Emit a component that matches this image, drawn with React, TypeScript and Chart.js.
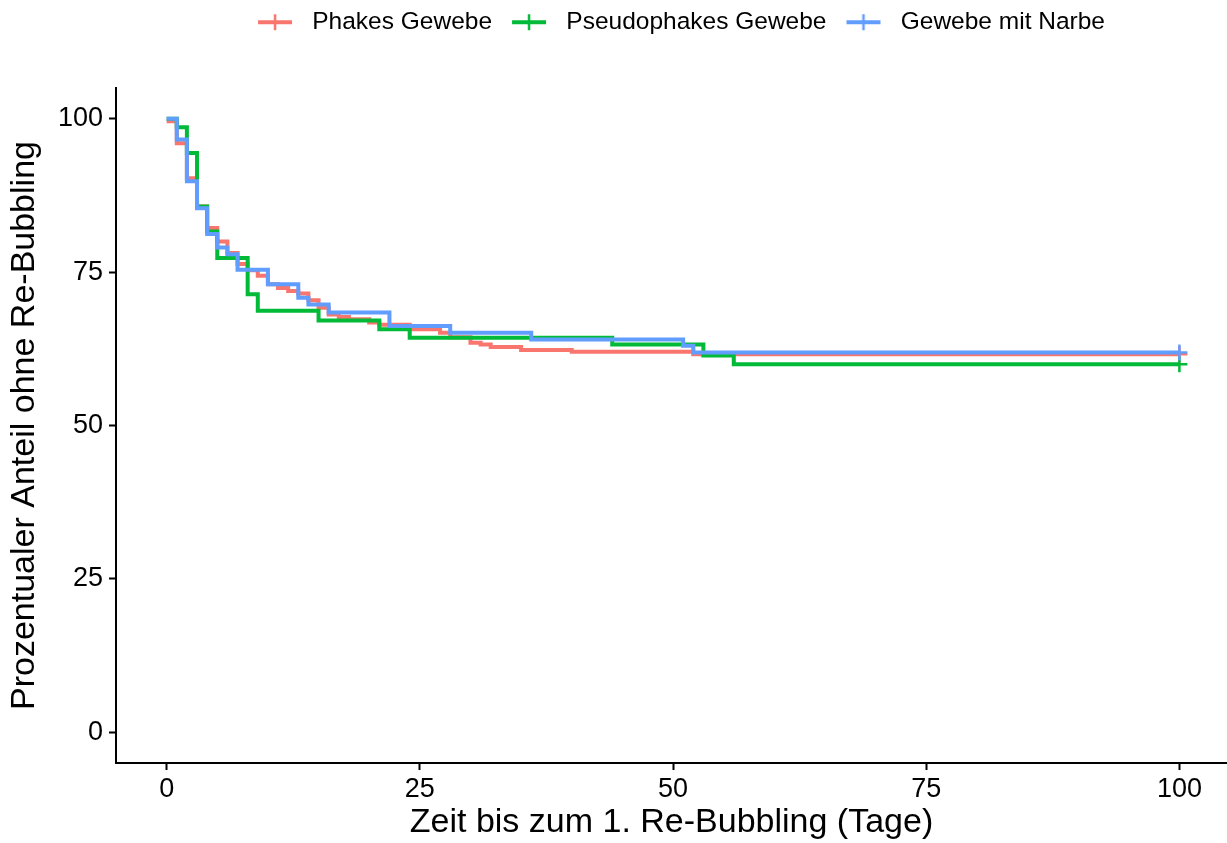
import React, { useEffect, useRef } from 'react';
import { Chart, registerables } from 'chart.js';

Chart.register(...registerables);

// ---- data ----
const seriesLabels = ['Phakes Gewebe', 'Pseudophakes Gewebe', 'Gewebe mit Narbe'];
const seriesColors = ['#F8766D', '#00BA38', '#619CFF'];

const phakesTime = [0, 1, 2, 3, 4, 5, 6, 7, 8, 9, 10, 11, 12, 13, 14, 15, 16, 17, 18, 20, 21, 24, 27, 28, 30, 31, 32, 35, 40, 52, 100];
const phakesSurv = [99.6, 96.0, 90.3, 85.7, 82.2, 80.0, 78.1, 76.3, 75.3, 74.4, 73.0, 72.4, 71.9, 71.5, 70.4, 69.2, 68.1, 67.7, 67.3, 66.8, 66.4, 65.7, 65.1, 64.4, 63.5, 63.2, 62.8, 62.3, 62.0, 61.6, 61.6];

const pseudoTime = [0, 1, 2, 3, 4, 5, 8, 9, 15, 21, 24, 44, 53, 56, 100];
const pseudoSurv = [100, 98.6, 94.4, 85.7, 81.6, 77.3, 71.4, 68.7, 67.1, 65.7, 64.3, 63.2, 61.4, 60.0, 60.0];

const narbeTime = [0, 1, 2, 3, 4, 5, 6, 7, 10, 13, 14, 16, 22, 28, 36, 51, 52, 100];
const narbeSurv = [100, 96.6, 89.8, 85.4, 81.2, 79.0, 77.9, 75.4, 73.0, 70.8, 69.7, 68.4, 66.2, 65.1, 64.0, 63.0, 61.9, 61.9];

const xTicks = [0, 25, 50, 75, 100];
const yTicks = [0, 25, 50, 75, 100];

const xTitle = 'Zeit bis zum 1. Re-Bubbling (Tage)';
const yTitle = 'Prozentualer Anteil ohne Re-Bubbling';

const FONT = "'Liberation Sans', Arial, Helvetica, sans-serif";

function toPoints(t: number[], s: number[]) {
  return t.map((x, i) => ({ x, y: s[i] }));
}

function makeLegendSymbol(color: string) {
  const c = document.createElement('canvas');
  c.width = 52;
  c.height = 24;
  const g = c.getContext('2d')!;
  g.strokeStyle = color;
  g.lineWidth = 4;
  g.beginPath();
  g.moveTo(10, 12);
  g.lineTo(44, 12);
  g.stroke();
  g.lineWidth = 2.5;
  g.beginPath();
  g.moveTo(27, 4);
  g.lineTo(27, 20);
  g.stroke();
  return c;
}

export default function App() {
  const ref = useRef<HTMLCanvasElement>(null);

  useEffect(() => {
    if (!ref.current) return;
    Chart.defaults.font.family = FONT;
    const symbols = seriesColors.map(makeLegendSymbol);
    const series = [
      toPoints(phakesTime, phakesSurv),
      toPoints(pseudoTime, pseudoSurv),
      toPoints(narbeTime, narbeSurv),
    ];
    const orders = [3, 2, 1];

    const layoutPlugin = {
      id: 'layoutTweak',
      afterInit(chart: any) {
        const lg = chart.legend;
        if (lg) {
          const fit = lg.fit;
          lg.fit = function () {
            fit.call(this);
            this.height = 88;
          };
        }
      },
      afterLayout(chart: any) {
        const lg = chart.legend;
        if (lg) {
          lg.left += 5;
          lg.right += 5;
        }
      },
    };

    const chart = new Chart(ref.current, {
      type: 'line',
      data: {
        datasets: series.map((data, i) => ({
          label: seriesLabels[i],
          data,
          order: orders[i],
          borderColor: seriesColors[i],
          backgroundColor: seriesColors[i],
          borderWidth: 4,
          stepped: true,
          fill: false,
          borderJoinStyle: 'miter',
          borderCapStyle: 'butt',
          pointStyle: 'cross',
          pointRadius: (ctx: any) => (ctx.dataIndex === data.length - 1 ? 8 : 0),
          pointBorderWidth: 2.5,
          pointBorderColor: seriesColors[i],
          pointHoverRadius: 0,
        })),
      },
      options: {
        responsive: false,
        animation: false,
        events: [],
        layout: { padding: 0, autoPadding: false },
        plugins: {
          legend: {
            position: 'top',
            fullSize: false,
            labels: {
              usePointStyle: true,
              pointStyleWidth: 52,
              padding: 10,
              color: '#000',
              font: { size: 24.5, family: FONT },
              generateLabels: (ch: any) =>
                ch.data.datasets.map((ds: any, i: number) => ({
                  text: ds.label,
                  pointStyle: symbols[i],
                  fillStyle: 'transparent',
                  strokeStyle: 'transparent',
                  lineWidth: 0,
                  hidden: false,
                  datasetIndex: i,
                  fontColor: '#000',
                })),
            },
          },
          tooltip: { enabled: false },
        },
        scales: {
          x: {
            type: 'linear',
            min: -5,
            max: 104.7,
            afterFit: (s: any) => {
              s.height = 80;
              s.paddingLeft = 0;
              s.paddingRight = 0;
            },
            afterBuildTicks: (s: any) => {
              s.ticks = xTicks.map((v) => ({ value: v }));
            },
            ticks: { color: '#000', font: { size: 27, family: FONT }, padding: 3, maxRotation: 0, autoSkip: false },
            grid: { display: true, drawOnChartArea: false, drawTicks: true, tickLength: 7, tickWidth: 2, tickColor: '#000' },
            border: { display: true, color: '#000', width: 2 },
            title: { display: true, text: xTitle, color: '#000', font: { size: 34, family: FONT }, padding: { top: 0, bottom: 0 } },
          },
          y: {
            type: 'linear',
            min: -5,
            max: 105,
            afterFit: (s: any) => {
              s.width = 116;
              s.paddingTop = 0;
              s.paddingBottom = 0;
            },
            afterBuildTicks: (s: any) => {
              s.ticks = yTicks.map((v) => ({ value: v }));
            },
            ticks: { color: '#000', font: { size: 27, family: FONT }, padding: 6, autoSkip: false },
            grid: { display: true, drawOnChartArea: false, drawTicks: true, tickLength: 7, tickWidth: 2, tickColor: '#000' },
            border: { display: true, color: '#000', width: 2 },
            title: { display: true, text: yTitle, color: '#000', font: { size: 34, family: FONT }, padding: { top: 4, bottom: 0 } },
          },
        },
      } as any,
      plugins: [layoutPlugin],
    });

    return () => chart.destroy();
  }, []);

  return (
    <div style={{ position: 'absolute', left: 0, top: 0, width: 1227, height: 843, background: '#fff' }}>
      <canvas ref={ref} width={1227} height={843} style={{ display: 'block' }} />
    </div>
  );
}
